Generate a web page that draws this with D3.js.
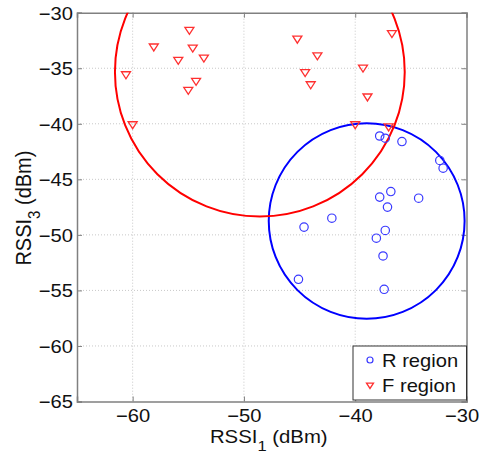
<!DOCTYPE html>
<html><head><meta charset="utf-8">
<script src="https://cdn.jsdelivr.net/npm/d3@7"></script>
<style>body{margin:0;background:#fff}svg{display:block}text{font-family:"Liberation Sans",Arial,sans-serif}</style>
</head><body>
<script>
const rRegionX = [-37.8,-37.3,-35.8,-32.4,-32.1,-37.8,-36.8,-34.3,-37.1,-42.1,-44.6,-37.3,-38.1,-37.5,-45.1,-37.4];
const rRegionY = [-41.1,-41.3,-41.6,-43.3,-44.0,-46.6,-46.1,-46.7,-47.5,-48.5,-49.3,-49.6,-50.3,-51.9,-54.0,-54.9];
const fRegionX = [-60.6,-60.0,-58.1,-55.9,-54.9,-54.6,-53.6,-54.3,-55.0,-45.2,-43.4,-44.5,-44.0,-39.3,-38.9,-40.0,-36.7,-37.0];
const fRegionY = [-35.6,-40.1,-33.1,-34.3,-31.6,-33.2,-34.1,-36.2,-37.0,-32.4,-33.9,-35.4,-36.5,-35.0,-37.6,-40.1,-31.9,-40.3];
const circleCenterX = [-38.97,-48.57];
const circleCenterY = [-48.75,-35.33];
const circleRadius = [8.8,13.02];
const circleColors = ["#0000ff","#ff0000"];
const xTicks = [-60,-50,-40,-30];
const yTicks = [-65,-60,-55,-50,-45,-40,-35,-30];
const legendLabels = ["R region","F region"];

const W=479,H=454, L=77, R=466.5, T=12.7, B=401.5, SX=1.12;
const svg=d3.select("body").append("svg").attr("width",W).attr("height",H);
const x=d3.scaleLinear().domain([-65,-30]).range([L,R]);
const y=d3.scaleLinear().domain([-65,-30]).range([B,T]);

svg.append("defs").append("clipPath").attr("id","clip").append("rect")
  .attr("x",L).attr("y",T).attr("width",R-L).attr("height",B-T);

// grid
const g=svg.append("g");
g.selectAll(".gx").data(xTicks.filter(d=>d>-65&&d<-30)).join("line")
  .attr("x1",d=>x(d)).attr("x2",d=>x(d)).attr("y1",T).attr("y2",B)
  .attr("stroke","#c8c8c8").attr("stroke-width",1).attr("stroke-dasharray","1,2");
g.selectAll(".gy").data(yTicks.filter(d=>d>-65&&d<-30)).join("line")
  .attr("y1",d=>y(d)).attr("y2",d=>y(d)).attr("x1",L).attr("x2",R)
  .attr("stroke","#c8c8c8").attr("stroke-width",1).attr("stroke-dasharray","1,2");

// axes (ticks inward on all sides)
const tk=5;
const axB=svg.append("g").attr("transform",`translate(0,${B})`).call(d3.axisBottom(x).tickValues(xTicks).tickSize(-tk).tickPadding(8).tickFormat(d3.format("d")));
const axT=svg.append("g").attr("transform",`translate(0,${T})`).call(d3.axisTop(x).tickValues(xTicks).tickSize(-tk).tickFormat(""));
const axL=svg.append("g").attr("transform",`translate(${L},0)`).call(d3.axisLeft(y).tickValues(yTicks).tickSize(-tk).tickFormat(d3.format("d")));
const axRt=svg.append("g").attr("transform",`translate(${R},0)`).call(d3.axisRight(y).tickValues(yTicks).tickSize(-tk).tickFormat(""));
[axB,axT,axL,axRt].forEach(a=>{
  a.select(".domain").attr("stroke","#808080").attr("stroke-width",1.5);
  a.selectAll(".tick line").attr("stroke","#808080");
  a.selectAll("text").attr("font-size","18px").attr("fill","#111").style("font-family","'Liberation Sans',Arial,sans-serif");
});
axB.selectAll("text").attr("x",0).attr("transform",d=>d===-30?`translate(-5,0) scale(${SX},1)`:`scale(${SX},1)`);
axL.selectAll("text").attr("x",0).attr("dy","0.35em").attr("transform",`translate(-4,0) scale(${SX},1)`);

// circles
const pl=svg.append("g").attr("clip-path","url(#clip)");
const circ=circleCenterX.map((cx,i)=>({cx,cy:circleCenterY[i],r:circleRadius[i],c:circleColors[i]}));
pl.selectAll(".bigc").data(circ).join("ellipse")
  .attr("cx",d=>x(d.cx)).attr("cy",d=>y(d.cy))
  .attr("rx",d=>x(d.cx+d.r)-x(d.cx)).attr("ry",d=>y(d.cy)-y(d.cy+d.r))
  .attr("fill","none").attr("stroke",d=>d.c).attr("stroke-width",2);

// R points
const rPts=rRegionX.map((v,i)=>[v,rRegionY[i]]);
pl.selectAll(".rp").data(rPts).join("circle")
  .attr("cx",d=>x(d[0])).attr("cy",d=>y(d[1])).attr("r",4.2)
  .attr("fill","none").attr("stroke","#3a3aff").attr("stroke-width",1.2);
// F points
const tri=(cx,cy,s)=>`M${cx-s},${cy-s*0.7}L${cx+s},${cy-s*0.7}L${cx},${cy+s*0.85}Z`;
const fPts=fRegionX.map((v,i)=>[v,fRegionY[i]]);
svg.append("g").selectAll(".fp").data(fPts).join("path")
  .attr("d",d=>tri(x(d[0]),y(d[1]),4.5))
  .attr("fill","none").attr("stroke","#ff3030").attr("stroke-width",1.3);

// legend
const lg=svg.append("g");
lg.append("rect").attr("x",353).attr("y",346).attr("width",R-353).attr("height",B-346-1.5)
  .attr("fill","#fff").attr("stroke","#333").attr("stroke-width",1);
lg.append("circle").attr("cx",370).attr("cy",360).attr("r",3).attr("fill","none").attr("stroke","#3a3aff").attr("stroke-width",1.2);
lg.append("path").attr("d",tri(370,385.5,3.5)).attr("fill","none").attr("stroke","#ff3030").attr("stroke-width",1.3);
lg.selectAll(".lt").data(legendLabels).join("text")
  .attr("x",0).attr("y",0)
  .attr("transform",(d,i)=>`translate(382,${366.5+i*25}) scale(${SX},1)`)
  .attr("font-size","18px").attr("fill","#111").text(d=>d);

// axis labels
const xl=svg.append("text").attr("transform",`translate(${(L+R)/2-3},442.5) scale(1.1,1)`).attr("text-anchor","middle").attr("font-size","18.5px").attr("fill","#111");
xl.append("tspan").text("RSSI");
xl.append("tspan").attr("font-size","15px").attr("dy",8).text("1");
xl.append("tspan").attr("dy",-8).text(" (dBm)");
const yl=svg.append("text").attr("transform",`translate(31,${(T+B)/2+1}) scale(${SX},1) rotate(-90)`).attr("text-anchor","middle").attr("font-size","20px").attr("fill","#111");
yl.append("tspan").text("RSSI");
yl.append("tspan").attr("font-size","15px").attr("dy",8).text("3");
yl.append("tspan").attr("dy",-8).text(" (dBm)");
</script>
</body></html>
